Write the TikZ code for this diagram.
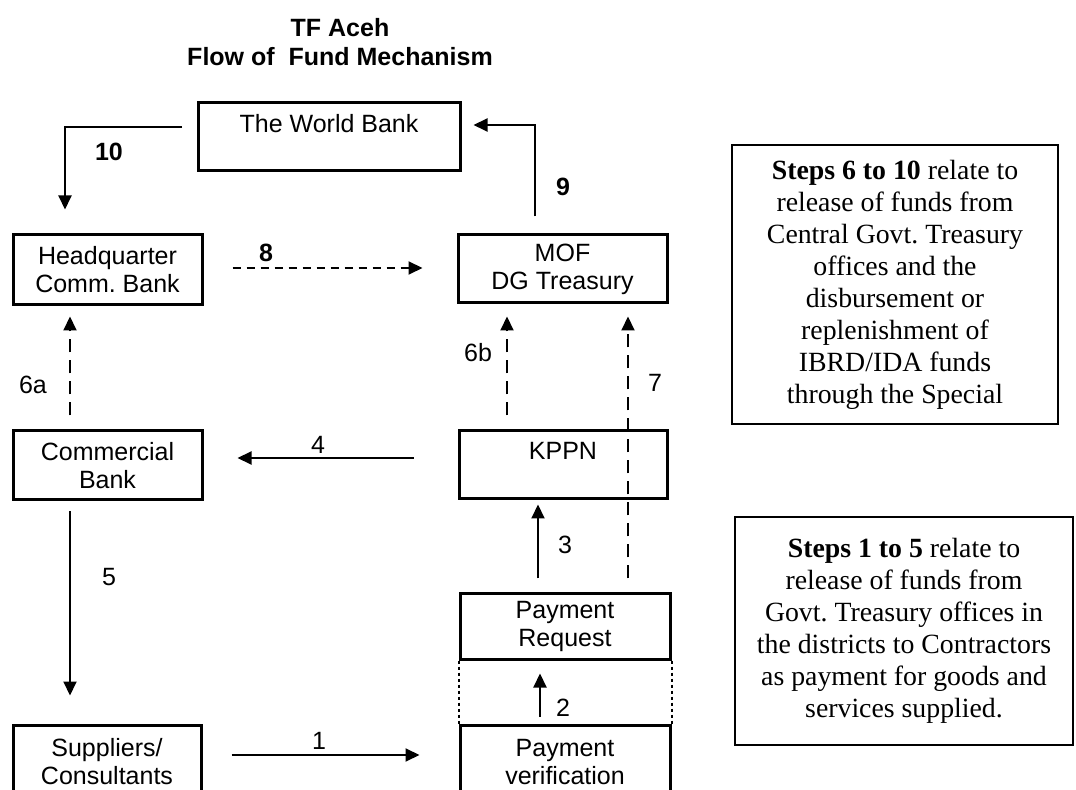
\documentclass[tikz,border=0pt]{standalone}
\usepackage{fontspec}
\setmainfont{Liberation Serif}
\newfontfamily\arialfont{Liberation Sans}
\usetikzlibrary{arrows.meta}
\frenchspacing
\newcommand\boxfont{\arialfont\fontsize{12.5}{14}\selectfont}
\newcommand\notefont{\fontsize{13.9}{16}\selectfont}

\begin{document}
\begin{tikzpicture}[x=.5pt,y=-.5pt,
    box/.style={draw,line width=1.5pt,inner sep=0pt,align=center,font=\boxfont},
    note/.style={draw,line width=.8pt,inner sep=0pt,align=center,font=\notefont},
    arr/.style={-{Triangle[length=7pt,width=6.5pt]},line width=1pt},
    dsh/.style={arr,dash pattern=on 6.5pt off 4pt},
    dotline/.style={line width=1pt,dash pattern=on 1.5pt off 1.5pt},
    lbl/.style={inner sep=0pt,font=\boxfont},
    blbl/.style={inner sep=0pt,font=\boxfont\bfseries}]
  \useasboundingbox (0,0) rectangle (1076,790);

  % title
  \node[align=center,font=\arialfont\bfseries\fontsize{12.5}{14.5}\selectfont] (title) at (340,42)
    {TF Aceh\\Flow of\ \ Fund Mechanism};

  % flow boxes
  \node[box,minimum width=131pt,minimum height=34pt] (wb) at (329,137) {The World Bank\\\mbox{}};
  \node[box,minimum width=94.5pt,minimum height=35pt] (hq) at (107.5,270) {Headquarter\\Comm. Bank};
  \node[box,minimum width=104.5pt,minimum height=34pt] (mof) at (562.5,269) {MOF\\DG Treasury};
  \node[box,minimum width=94.5pt,minimum height=34.5pt] (cb) at (107.5,465.5) {Commercial\\Bank};
  \node[box,minimum width=104pt,minimum height=34pt] (kppn) at (563,465) {KPPN\\\mbox{}};
  \node[box,minimum width=105pt,minimum height=32.5pt] (preq) at (565,626.5) {Payment\\Request};
  \node[box,minimum width=105pt,minimum height=37pt] (pver) at (565,762) {Payment\\verification};
  \node[box,minimum width=94pt,minimum height=37pt] (sup) at (107,762) {Suppliers/\\Consultants};

  % notes on the right
  \node[note,minimum width=163pt,minimum height=139.5pt] (note1) at (895,284.5)
    {\textbf{Steps 6 to 10} relate to\\release of funds from\\Central Govt. Treasury\\offices and the\\
     disbursement or\\replenishment of\\IBRD/IDA funds\\through the Special};
  \node[note,minimum width=169pt,minimum height=114pt] (note2) at (904,631)
    {\textbf{Steps 1 to 5} relate to\\release of funds from\\Govt. Treasury offices in\\
     the districts to Contractors\\as payment for goods and\\services supplied.};

  % columns and rows of the connectors
  \coordinate (a10) at (182,127);
  \coordinate (c10) at (65,0);
  \coordinate (c9) at (535,125);
  \coordinate (c8) at (0,268);
  \coordinate (c6a) at (70,0);
  \coordinate (c6b) at (507,0);
  \coordinate (c7) at (628,0);
  \coordinate (c3) at (538,0);
  \coordinate (c4) at (0,458);
  \coordinate (c2) at (540,0);
  \coordinate (c1) at (0,755);

  % connectors
  \draw[arr,shorten >=12pt] (a10) -| (c10 |- hq.north);
  \draw[arr,shorten <=8.5pt,shorten >=6pt] (c9 |- mof.north) |- (wb.east |- c9);
  \draw[arr,dash pattern=on 4pt off 3pt,shorten <=14.5pt,shorten >=17pt] (hq.east |- c8) -- (mof.west |- c8);
  \draw[dsh,shorten <=7pt,shorten >=5pt] (c6a |- cb.north) -- (c6a |- hq.south);
  \draw[dsh,shorten <=7pt,shorten >=6pt] (c6b |- kppn.north) -- (c6b |- mof.south);
  \draw[dsh,shorten <=7pt,shorten >=6pt] (c7 |- preq.north) -- (c7 |- mof.south);
  \draw[arr,shorten <=7pt,shorten >=2pt] (c3 |- preq.north) -- (c3 |- kppn.south);
  \draw[arr,shorten <=22pt,shorten >=17pt] (kppn.west |- c4) -- (cb.east |- c4);
  \draw[arr,shorten <=5pt,shorten >=14pt] (c6a |- cb.south) -- (c6a |- sup.north);
  \draw[arr,shorten <=3.5pt,shorten >=6.5pt] (c2 |- pver.north) -- (c2 |- preq.south);
  \draw[arr,shorten <=14.5pt,shorten >=19.5pt] (sup.east |- c1) -- (pver.west |- c1);
  \draw[dotline] (preq.south west) -- (pver.north west);
  \draw[dotline] (preq.south east) -- (pver.north east);

  % step numbers
  \node[blbl] (n10) at (109,152) {10};
  \node[blbl] (n9) at (563,187) {9};
  \node[blbl] (n8) at (266,253) {8};
  \node[lbl] (n6a) at (33,385) {6a};
  \node[lbl] (n6b) at (478,353) {6b};
  \node[lbl] (n7) at (655,383) {7};
  \node[lbl] (n4) at (318,445) {4};
  \node[lbl] (n5) at (109,577) {5};
  \node[lbl] (n3) at (565,545) {3};
  \node[lbl] (n2) at (563,708) {2};
  \node[lbl] (n1) at (319,741) {1};
\end{tikzpicture}
\end{document}
